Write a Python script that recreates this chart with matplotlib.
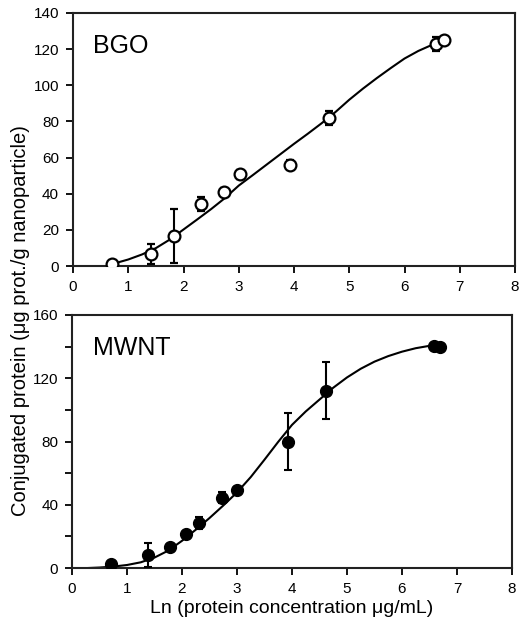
import numpy as np
import matplotlib
matplotlib.use("Agg")
import matplotlib.pyplot as plt

plt.rcParams['font.family'] = ['Liberation Sans', 'DejaVu Sans']

# BGO data (open circles)
bgo_x = [0.71, 1.42, 1.82, 2.32, 2.73, 3.02, 3.93, 4.63, 6.57, 6.72]
bgo_y = [1.1, 6.6, 16.4, 34.4, 41.0, 50.8, 56.0, 81.8, 122.8, 124.9]
bgo_err = [1.5, 5.6, 15.0, 4.0, 2.0, 2.5, 2.5, 4.0, 4.0, 1.5]
# fitted curve
bgo_fit_x = [0.7, 1.0, 1.25, 1.5, 1.75, 2.0, 2.25, 2.5, 2.75, 3.0, 3.25, 3.5, 3.75,
             4.0, 4.25, 4.5, 4.75, 5.0, 5.25, 5.5, 5.75, 6.0, 6.25, 6.5, 6.7]
bgo_fit_y = [1.0, 3.6, 6.4, 9.9, 14.6, 20.2, 25.8, 31.5, 37.6, 44.5, 50.2, 56.0, 61.8,
             67.6, 73.2, 79.0, 85.2, 92.0, 98.2, 104.0, 109.5, 114.8, 119.0, 122.4, 124.5]

# MWNT data (filled circles)
mwnt_x = [0.70, 1.39, 1.79, 2.08, 2.31, 2.72, 3.00, 3.93, 4.62, 6.58, 6.70]
mwnt_y = [2.7, 8.4, 13.3, 21.3, 28.5, 44.5, 49.2, 79.8, 112.1, 140.2, 139.5]
mwnt_err = [1.0, 7.5, 1.5, 1.5, 4.0, 3.5, 2.0, 18.0, 18.0, 1.0, 1.0]
mwnt_fit_x = [0.3, 0.5, 0.75, 1.0, 1.25, 1.5, 1.75, 2.0, 2.25, 2.5, 2.75, 3.0, 3.25,
              3.5, 3.75, 4.0, 4.25, 4.5, 4.75, 5.0, 5.25, 5.5, 5.75, 6.0, 6.25, 6.5, 6.7]
mwnt_fit_y = [0.0, 0.3, 0.9, 1.9, 3.6, 6.6, 11.0, 17.2, 24.2, 31.6, 39.5, 47.8, 57.5,
              68.5, 79.8, 90.5, 99.0, 106.5, 114.0, 120.5, 126.0, 130.5, 134.0, 136.8,
              139.0, 140.5, 141.2]

fig = plt.figure(figsize=(5.2, 6.25), dpi=100)
ax1 = fig.add_axes([0.1404, 0.5744, 0.850, 0.4048])
ax2 = fig.add_axes([0.1385, 0.0912, 0.846, 0.4048])

ax1.plot(bgo_fit_x, bgo_fit_y, color='black', lw=1.5, zorder=2)
ax1.errorbar(bgo_x, bgo_y, yerr=bgo_err, fmt='o', mfc='white', mec='black', mew=1.6,
             ms=8.5, ecolor='black', elinewidth=1.5, capsize=3, capthick=1.5, zorder=3)
ax1.set_ylim(0, 140)
ax1.set_yticks(range(0, 141, 20))
ax1.text(0.36, 118, 'BGO', fontsize=18)

ax2.plot(mwnt_fit_x, mwnt_fit_y, color='black', lw=1.5, zorder=2)
ax2.errorbar(mwnt_x, mwnt_y, yerr=mwnt_err, fmt='o', mfc='black', mec='black',
             ms=8.5, ecolor='black', elinewidth=1.5, capsize=3, capthick=1.5, zorder=3)
ax2.set_ylim(0, 160)
ax2.set_yticks(range(0, 161, 40))
ax2.set_yticks(range(20, 160, 40), minor=True)
ax2.text(0.38, 134.5, 'MWNT', fontsize=18)
ax2.set_xlabel('Ln (protein concentration μg/mL)', fontsize=14, labelpad=3)

for ax in (ax1, ax2):
    ax.set_xlim(0, 8)
    ax.set_xticks(range(0, 9))
    ax.tick_params(direction='out', length=5, width=1.3, labelsize=11, colors='black', pad=5)
    ax.tick_params(which='minor', direction='out', length=5, width=1.3)
    for s in ax.spines.values():
        s.set_linewidth(1.5)
        s.set_color('#222222')

fig.text(0.040, 0.487, 'Conjugated protein (μg prot./g nanoparticle)', rotation=90,
         fontsize=14.5, ha='center', va='center')

fig.savefig('out.png', dpi=100)
